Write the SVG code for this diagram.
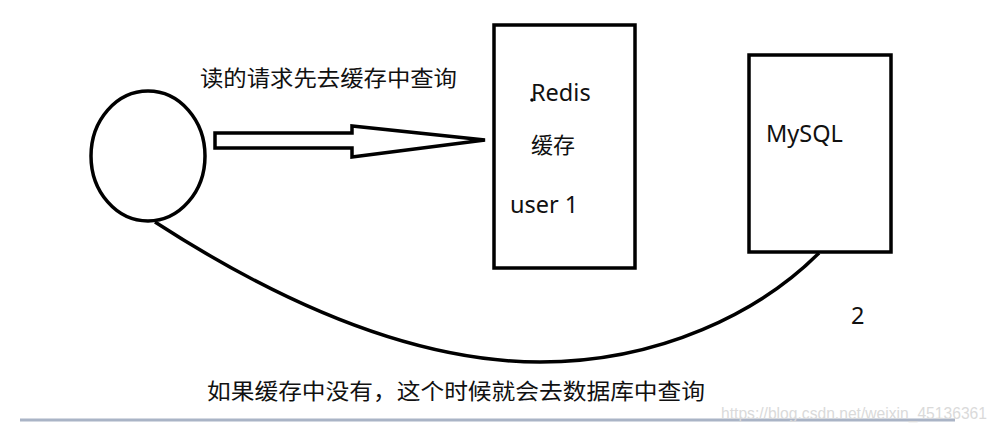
<svg xmlns="http://www.w3.org/2000/svg" width="995" height="434" viewBox="0 0 995 434">
<style>
.ln{fill:none;stroke:#000;stroke-width:3.5}
.box{fill:#fff;stroke:#000;stroke-width:3.5}
.t{font-family:"Noto Sans","Noto Sans CJK SC",sans-serif;font-size:22px;fill:#111}
.l{font-size:23.5px}
.wm{font-family:"Liberation Sans",sans-serif;font-size:17px;fill:#dadada}
</style>
<rect width="995" height="434" fill="#fff"/>
<g id="labels">
<text class="t" x="200" y="86" textLength="257" lengthAdjust="spacingAndGlyphs">读的请求先去缓存中查询</text>
<text class="t" x="207" y="399" textLength="498" lengthAdjust="spacingAndGlyphs">如果缓存中没有，这个时候就会去数据库中查询</text>
<text class="t l" x="851" y="324">2</text>
</g>
<g id="connectors">
<polygon class="ln" points="215,133 352,133 352,126 485,140 352,157 352,148 215,148"/>
<path class="ln" d="M155,222 C260,290 400,362 540,362 C660,362 760,312 819,253"/>
</g>
<g id="user">
<ellipse class="ln" cx="148" cy="156" rx="57" ry="65"/>
</g>
<g id="redis">
<rect class="box" x="494" y="25" width="141" height="243"/>
<circle cx="532" cy="100" r="1.8" fill="#000"/>
<text class="t l" x="531" y="101">Redis</text>
<text class="t" x="531" y="153">缓存</text>
<text class="t l" x="510" y="213">user 1</text>
</g>
<g id="mysql">
<rect class="box" x="749" y="55" width="142" height="197"/>
<text class="t l" x="766" y="142">MySQL</text>
</g>
<g id="footer">
<line x1="20" y1="420" x2="955" y2="420" stroke="#aab4c6" stroke-width="3"/>
<text class="wm" x="721" y="419" textLength="266" lengthAdjust="spacingAndGlyphs">https://blog.csdn.net/weixin_45136361</text>
</g>
</svg>
